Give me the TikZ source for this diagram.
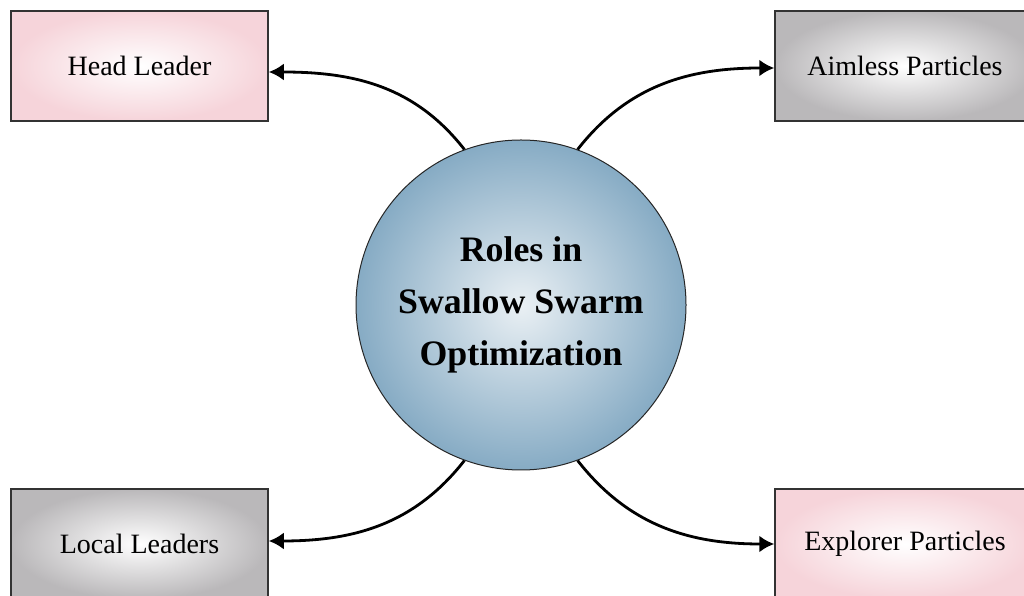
\documentclass[tikz,border=0pt]{standalone}
\usepackage{fontspec}
\setmainfont{Liberation Serif}
\usepackage{tikz}
\usepackage{xcolor}
\usetikzlibrary{arrows.meta}
\definecolor{boxpink}{RGB}{246,212,218}
\definecolor{boxgrey}{RGB}{186,184,186}
\definecolor{ballblue}{RGB}{134,171,196}
\definecolor{balllight}{RGB}{234,240,244}
\tikzset{
    role-box/.style = {draw=black!80, line width=1.5pt, rectangle, minimum width=257pt, minimum height=110pt, font=\fontsize{28}{32}\selectfont},
    pink-box/.style = {role-box, inner color=white, outer color=boxpink},
    grey-box/.style = {role-box, inner color=white, outer color=boxgrey},
    centre-ball/.style = {draw=black!85, line width=1pt, circle, minimum size=330pt, inner sep=0pt, inner color=balllight, outer color=ballblue, align=center, font=\fontsize{35.8}{52}\selectfont\bfseries},
    role-arrow/.style = {line width=2.8pt, -{Latex[length=15pt,width=17pt]}},
}

\begin{document}
\begin{tikzpicture}[x=1pt,y=1pt]
\useasboundingbox (0,0) rectangle (1024,596);
\clip (0,0) rectangle (1024,596);
\node [centre-ball] (roles) at (521,291) {Roles in\\Swallow Swarm\\Optimization};
\node [pink-box] (head) at (139.5,530) {Head Leader};
\node [grey-box, minimum width=260pt] (aimless) at (905,530) {Aimless Particles};
\node [grey-box, minimum height=110pt] (local) at (139.5,52) {Local Leaders};
\node [pink-box, minimum width=260pt] (explorer) at (905,52) {Explorer Particles};
\draw [role-arrow] (roles.110) to[out=128, in=0] ([yshift=-6pt]head.east);
\draw [role-arrow] (roles.70) to[out=52, in=180] ([yshift=-2pt]aimless.west);
\draw [role-arrow] (roles.-110) to[out=-128, in=0] ([yshift=3pt]local.east);
\draw [role-arrow] (roles.-70) to[out=-52, in=180] ([yshift=0pt]explorer.west);
\end{tikzpicture}
\end{document}
